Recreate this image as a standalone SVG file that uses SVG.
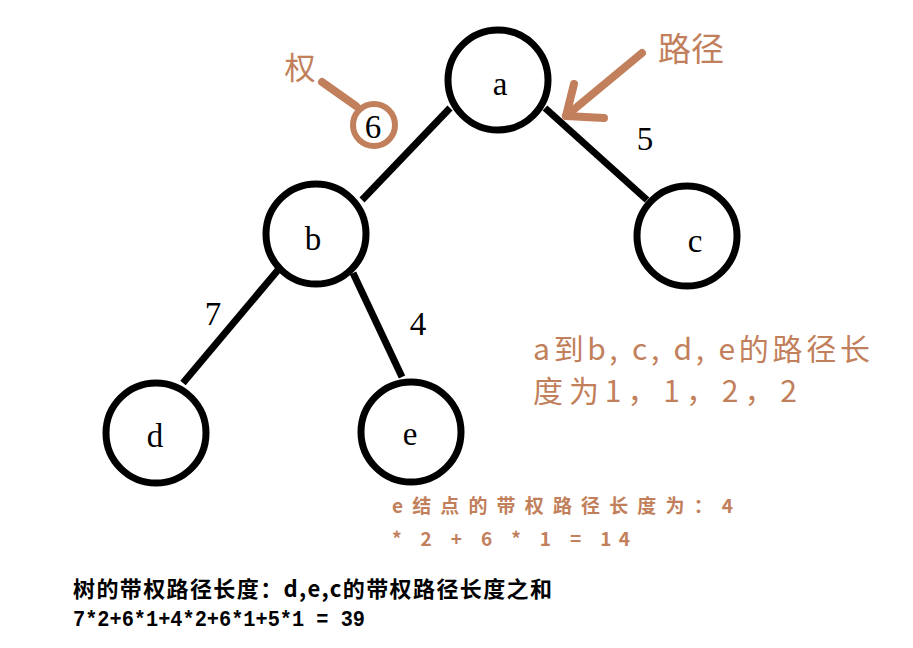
<svg xmlns="http://www.w3.org/2000/svg" width="913" height="648" viewBox="0 0 913 648">
<style>
.node circle{fill:#fff;stroke:#000;stroke-width:7}
.lbl{font-family:"Liberation Serif",serif;font-size:33px;fill:#000;text-anchor:middle}
.edge{stroke:#000;stroke-width:7;fill:none}
.ann{fill:#c27f5b;font-family:"Noto Sans CJK SC","Noto Sans",sans-serif}
.annline{stroke:#c27f5b;stroke-width:8;fill:none;stroke-linecap:round;stroke-linejoin:round}
.blk{fill:#000;font-family:"Noto Sans CJK SC","Noto Sans",sans-serif;font-weight:bold}
.mono{fill:#000;font-family:"Liberation Mono",monospace;font-weight:bold}
</style>
<rect width="913" height="648" fill="#fff"/>
<g id="connectors">
<line class="edge" x1="450" y1="108" x2="362" y2="200"/>
<line class="edge" x1="545" y1="108" x2="647" y2="200"/>
<line class="edge" x1="278" y1="270" x2="183" y2="383"/>
<line class="edge" x1="353" y1="273" x2="402" y2="377"/>
<text class="lbl" x="213" y="325">7</text>
<text class="lbl" x="418" y="335">4</text>
<text class="lbl" x="645" y="150">5</text>
</g>
<g id="node-a" class="node"><circle cx="498" cy="80" r="50"/><text class="lbl" x="500" y="95">a</text></g>
<g id="node-b" class="node"><circle cx="316" cy="234" r="50"/><text class="lbl" x="313" y="250">b</text></g>
<g id="node-c" class="node"><circle cx="687" cy="236" r="50"/><text class="lbl" x="695" y="252">c</text></g>
<g id="node-d" class="node"><circle cx="156" cy="433" r="50"/><text class="lbl" x="155" y="447">d</text></g>
<g id="node-e" class="node"><circle cx="411" cy="432" r="50"/><text class="lbl" x="410" y="445">e</text></g>
<g id="annotation-weight">
<text class="ann" x="300" y="79" font-size="31" text-anchor="middle">权</text>
<line class="annline" x1="322" y1="82" x2="356" y2="106"/>
<circle cx="374" cy="125" r="21" fill="#fff" stroke="#c27f5b" stroke-width="6"/>
<text class="lbl" x="373" y="138">6</text>
</g>
<g id="annotation-path">
<text class="ann" x="691" y="61" font-size="33" text-anchor="middle">路径</text>
<path class="annline" d="M642 53 L566 116"/>
<path class="annline" d="M574 84 L566 116 L604 118"/>
</g>
<g id="note-length">
<text class="ann" x="533" y="360" font-size="30" textLength="337" lengthAdjust="spacing">a到b, c, d, e的路径长</text>
<text class="ann" x="533" y="402" font-size="30" textLength="264" lengthAdjust="spacing">度为1，1，2，2</text>
</g>
<g id="note-e">
<text class="ann" x="392" y="513" font-size="19" font-weight="bold" textLength="341" lengthAdjust="spacing">e结点的带权路径长度为：4</text>
<text class="ann" x="392" y="546" font-size="19" font-weight="bold" textLength="238" lengthAdjust="spacing">* 2 + 6 * 1 = 14</text>
</g>
<g id="note-total">
<text class="blk" x="73" y="597" font-size="22" textLength="479" lengthAdjust="spacing">树的带权路径长度：d,e,c的带权路径长度之和</text>
<text class="mono" x="73" y="626" font-size="22" textLength="292" lengthAdjust="spacingAndGlyphs">7*2+6*1+4*2+6*1+5*1 = 39</text>
</g>
</svg>
